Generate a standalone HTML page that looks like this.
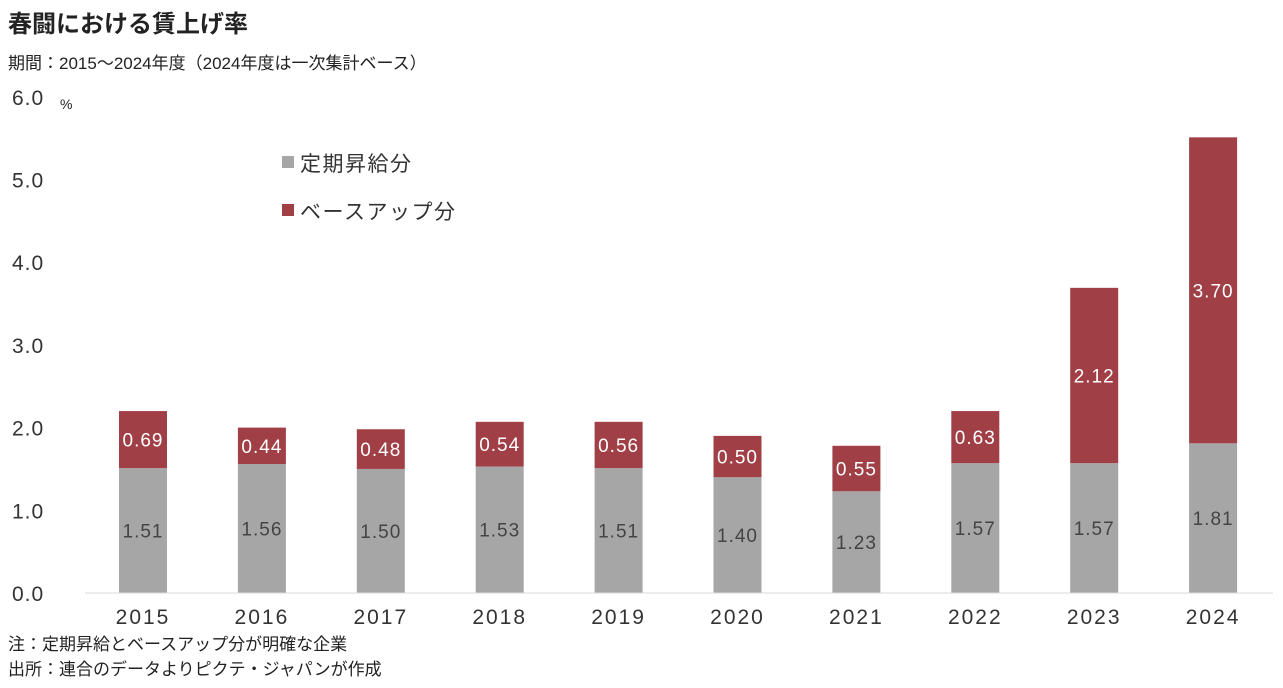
<!DOCTYPE html>
<html><head><meta charset="utf-8"><style>
body{margin:0;background:#fff;width:1283px;height:683px;overflow:hidden;font-family:"Liberation Sans","Noto Sans CJK JP",sans-serif;}
</style></head><body>
<svg width="1283" height="683" xmlns="http://www.w3.org/2000/svg" font-family="Liberation Sans, Noto Sans CJK JP, sans-serif">
<text x="8" y="32" font-size="24" font-weight="600" fill="#222">春闘における賃上げ率</text>
<text x="8" y="69" font-size="17" fill="#222">期間：2015～2024年度（2024年度は一次集計ベース）</text>
<text x="8" y="650" font-size="17" fill="#222">注：定期昇給とベースアップ分が明確な企業</text>
<text x="8" y="675" font-size="17" fill="#222">出所：連合のデータよりピクテ・ジャパンが作成</text>
<text x="60" y="109" font-size="14" fill="#222">%</text>
<g id="yaxis"></g>
<g id="bars"></g>
<g id="xaxis"></g>
<line x1="85" y1="593" x2="1273" y2="593" stroke="#d9d9d9" stroke-width="1"/>
<rect x="282" y="156" width="12" height="12" fill="#a6a6a6"/>
<text x="300" y="171" font-size="21" letter-spacing="1.5" fill="#333">定期昇給分</text>
<rect x="282" y="204" width="12" height="12" fill="#a04046"/>
<text x="300" y="219" font-size="21" letter-spacing="1.5" fill="#333">ベースアップ分</text>
</svg>
<script>
const categories=["2015","2016","2017","2018","2019","2020","2021","2022","2023","2024"];
const regular=[1.51,1.56,1.50,1.53,1.51,1.40,1.23,1.57,1.57,1.81];
const baseup=[0.69,0.44,0.48,0.54,0.56,0.50,0.55,0.63,2.12,3.70];
const yTicks=["0.0","1.0","2.0","3.0","4.0","5.0","6.0"];
const NS="http://www.w3.org/2000/svg";
const y0=593,pxPer=82.7,x0=143,step=118.9,bw=48;
const yScale=v=>y0-v*pxPer;
const xScale=i=>x0+i*step;
function mk(tag,attrs,parent,text){const e=document.createElementNS(NS,tag);for(const k in attrs)e.setAttribute(k,attrs[k]);if(text!==undefined)e.textContent=text;parent.appendChild(e);return e;}
const ya=document.getElementById('yaxis'),bars=document.getElementById('bars'),xa=document.getElementById('xaxis');
yTicks.forEach(t=>{const e=mk('text',{x:12,y:yScale(parseFloat(t))+8,'font-size':21,fill:'#333','letter-spacing':'1'},ya,t);

});
categories.forEach((c,i)=>{
 const cx=xScale(i);
 const r=mk('rect',{x:cx-bw/2,y:yScale(regular[i]),width:bw,height:regular[i]*pxPer,fill:'#a6a6a6'},bars);
 
 
 const b=mk('rect',{x:cx-bw/2,y:yScale(regular[i]+baseup[i]),width:bw,height:baseup[i]*pxPer,fill:'#a04046'},bars);
 
 
 const l1=mk('text',{x:cx,y:yScale(regular[i]/2)+7,'font-size':19,fill:'#444','text-anchor':'middle','letter-spacing':'1'},bars,regular[i].toFixed(2));
 
 
 const l2=mk('text',{x:cx,y:yScale(regular[i]+baseup[i]/2)+7,'font-size':19,fill:'#fff','text-anchor':'middle','letter-spacing':'1'},bars,baseup[i].toFixed(2));
 
 
 const xl=mk('text',{x:cx,y:624,'font-size':21,fill:'#333','text-anchor':'middle','letter-spacing':'2'},xa,c);
 
 
});
</script>
</body></html>
